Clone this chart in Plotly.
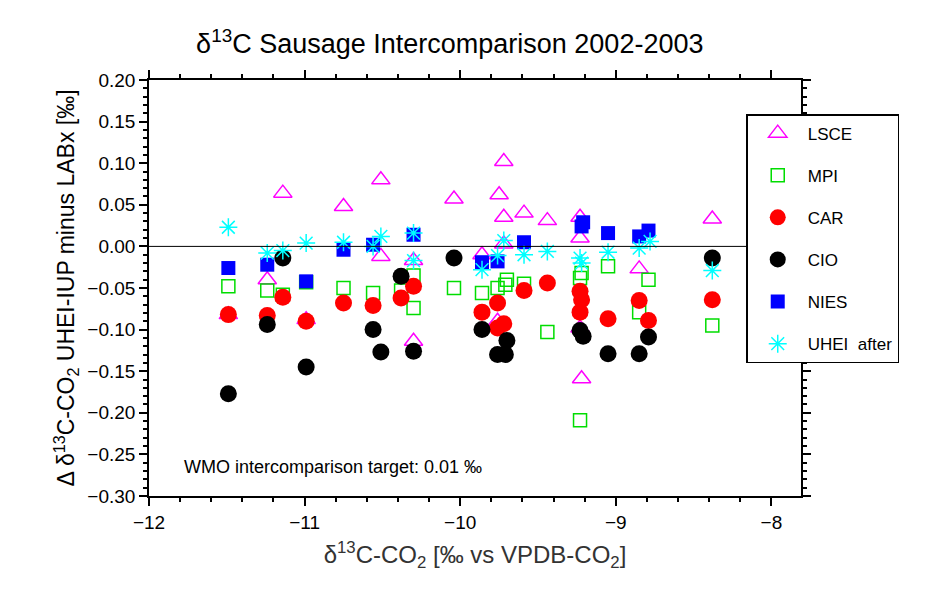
import plotly.graph_objects as go

# значения
lsce_x = [-11.49, -11.24, -11.14, -10.99, -10.75, -10.51, -10.51, -10.30, -10.30, -10.04, -9.86, -9.76,
          -9.75, -9.72, -9.72, -9.72, -9.59, -9.44, -9.23, -9.23, -9.22, -9.23, -8.85, -8.38]
lsce_y = [-0.082, -0.040, 0.064, -0.088, 0.048, 0.080, -0.012, -0.017, -0.114, 0.057, -0.010, -0.090,
          0.062, 0.102, 0.035, 0.003, 0.040, 0.031, 0.035, 0.010, -0.159, -0.098, -0.027, 0.033]
mpi_x = [-11.49, -11.24, -11.14, -10.99, -10.75, -10.56, -10.38, -10.30, -10.30, -10.04, -9.86, -9.76,
         -9.71, -9.70, -9.59, -9.44, -9.23, -9.22, -9.23, -9.05, -8.85, -8.79, -8.38]
mpi_y = [-0.048, -0.053, -0.058, -0.043, -0.050, -0.056, -0.053, -0.035, -0.074, -0.050, -0.056, -0.050,
         -0.046, -0.040, -0.045, -0.103, -0.038, -0.032, -0.209, -0.024, -0.079, -0.040, -0.095]
car_x = [-11.49, -11.24, -11.14, -10.99, -10.75, -10.56, -10.38, -10.30, -9.86, -9.76, -9.76, -9.72,
         -9.59, -9.44, -9.23, -9.22, -9.23, -9.05, -8.85, -8.79, -8.38]
car_y = [-0.082, -0.083, -0.061, -0.090, -0.068, -0.071, -0.062, -0.048, -0.079, -0.068, -0.098, -0.093,
         -0.053, -0.044, -0.054, -0.064, -0.079, -0.087, -0.065, -0.089, -0.064]
cio_x = [-11.49, -11.24, -11.14, -10.99, -10.56, -10.38, -10.51, -10.30, -10.04, -9.86, -9.76, -9.71,
         -9.70, -9.23, -9.21, -9.05, -8.85, -8.79, -8.38]
cio_y = [-0.177, -0.094, -0.014, -0.145, -0.100, -0.036, -0.127, -0.126, -0.014, -0.100, -0.130, -0.130,
         -0.113, -0.101, -0.108, -0.129, -0.129, -0.109, -0.014]
nies_x = [-11.49, -11.24, -10.99, -10.75, -10.56, -10.30, -9.86, -9.76, -9.59, -9.22, -9.21, -9.05, -8.85, -8.79]
nies_y = [-0.026, -0.022, -0.042, -0.004, 0.002, 0.014, -0.019, -0.018, 0.005, 0.024, 0.029, 0.016, 0.012, 0.019]
uhei_x = [-11.49, -11.24, -11.14, -10.99, -10.75, -10.56, -10.51, -10.30, -10.30, -9.86, -9.76, -9.72,
          -9.59, -9.44, -9.23, -9.22, -9.05, -8.85, -8.78, -8.38]
uhei_y = [0.023, -0.008, -0.005, 0.004, 0.005, 0.000, 0.012, 0.016, -0.017, -0.028, -0.011, 0.007,
          -0.010, -0.006, -0.014, -0.020, -0.007, -0.002, 0.006, -0.029]

series = [
    ('LSCE', lsce_x, lsce_y, dict(symbol='triangle-up-open', color='#ff00ff', size=16, line=dict(width=1.5))),
    ('MPI', mpi_x, mpi_y, dict(symbol='square-open', color='#00dd00', size=13, line=dict(width=1.5))),
    ('CAR', car_x, car_y, dict(symbol='circle', color='#ff0000', size=17)),
    ('CIO', cio_x, cio_y, dict(symbol='circle', color='black', size=17)),
    ('NIES', nies_x, nies_y, dict(symbol='square', color='#0000ff', size=14)),
    ('UHEI  after', uhei_x, uhei_y, dict(symbol='asterisk-open', color='#00ffff', size=15, line=dict(width=1.5, color='#00ffff'))),
]

fig = go.Figure()
for name, xs, ys, mk in series:
    fig.add_trace(go.Scatter(x=xs, y=ys, mode='markers', name=name, marker=mk, legendgroup=name))

fig.add_hline(y=0, line=dict(color='black', width=1))

axis_common = dict(showgrid=False, zeroline=False, showline=True, linecolor='black', linewidth=1.5,
                   mirror='ticks', ticks='outside', ticklen=8, tickwidth=1.5, tickcolor='black',
                   tickfont=dict(size=19, color='black'))
fig.update_xaxes(range=[-12, -7.81], dtick=1, tick0=-12,
                 minor=dict(ticks='outside', ticklen=4, dtick=0.2, tickcolor='black'),
                 title=dict(text='δ<sup>13</sup>C-CO<sub>2</sub> [‰ vs VPDB-CO<sub>2</sub>]',
                            font=dict(size=24, color='#333')), **axis_common)
fig.update_yaxes(range=[-0.3, 0.2], dtick=0.05, tickformat='.2f',
                 minor=dict(ticks='outside', ticklen=4, dtick=0.01, tickcolor='black'),
                 title=dict(text='Δ δ<sup>13</sup>C-CO<sub>2</sub> UHEI-IUP minus LABx [‰]',
                            font=dict(size=23, color='black'), standoff=6), **axis_common)

fig.add_annotation(x=0.05, y=0.07, xref='paper', yref='paper', xanchor='left', yanchor='middle',
                   text='WMO intercomparison target: 0.01 ‰', showarrow=False,
                   font=dict(size=18, color='black'))

fig.update_layout(
    width=940, height=589,
    margin=dict(l=141, r=147, t=72, b=101),
    plot_bgcolor='white', paper_bgcolor='white',
    font=dict(family='Liberation Sans, Arial, sans-serif'),
    title=dict(text='δ<sup>13</sup>C Sausage Intercomparison 2002-2003', x=0.47, xanchor='center',
               y=0.955, font=dict(size=27, color='black')),
    legend=dict(x=0.916, y=0.918, xanchor='left', yanchor='top', bgcolor='white',
                bordercolor='black', borderwidth=1.5, font=dict(size=17, color='black'),
                itemwidth=50, tracegroupgap=17, entrywidth=150),
)

fig.write_html('out.html')
